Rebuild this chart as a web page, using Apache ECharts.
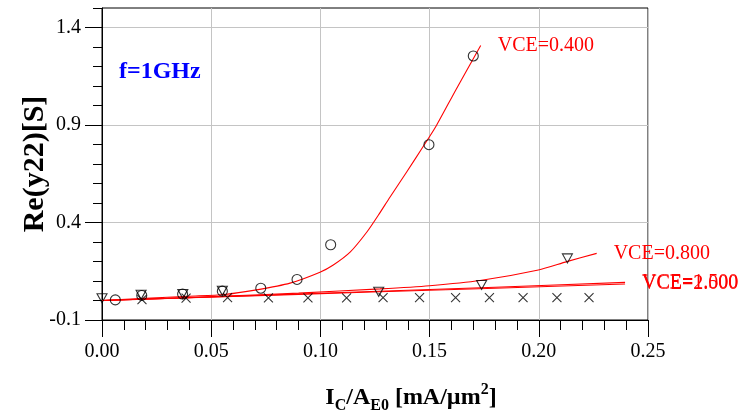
<!DOCTYPE html>
<html>
<head>
<meta charset="utf-8">
<script src="https://cdn.jsdelivr.net/npm/echarts@6/dist/echarts.min.js"></script>
<style>
html,body{margin:0;padding:0;background:#fff;}
#chart{width:741px;height:419px;}
</style>
</head>
<body>
<div id="chart"></div>
<script>
// ---- data ----
// measured points (symbols)
const circleX = [0.0061, 0.0182, 0.0369, 0.0551, 0.0727, 0.0893, 0.1047, 0.1497, 0.1700];
const circleY = [0.003, 0.026, 0.033, 0.048, 0.063, 0.108, 0.286, 0.799, 1.254];
const triX = [0.0, 0.0179, 0.0370, 0.0551, 0.1267, 0.1738, 0.2131];
const triY = [0.012, 0.029, 0.033, 0.050, 0.045, 0.080, 0.216];
const crossX = [0.0183, 0.0385, 0.0575, 0.0762, 0.0943, 0.1120, 0.1287, 0.1454, 0.1619, 0.1774, 0.1928, 0.2083, 0.2230];
const crossY = [0.004, 0.012, 0.015, 0.013, 0.013, 0.014, 0.015, 0.015, 0.015, 0.015, 0.015, 0.015, 0.015];
// simulated curves
const v04X = [0, 0.02, 0.04, 0.056, 0.0708, 0.0861, 0.0998, 0.1059, 0.1136, 0.1212, 0.1265, 0.1319, 0.1395, 0.1464, 0.1530, 0.1620, 0.1734];
const v04Y = [0, 0.011, 0.022, 0.031, 0.0546, 0.089, 0.145, 0.182, 0.248, 0.350, 0.437, 0.531, 0.659, 0.778, 0.895, 1.080, 1.308];
const v08X = [0, 0.03, 0.06, 0.09, 0.1273, 0.15, 0.1731, 0.1998, 0.2128, 0.2265];
const v08Y = [0, 0.011, 0.024, 0.038, 0.0597, 0.076, 0.1026, 0.1566, 0.1995, 0.2418];
const v15X = [0, 0.06, 0.12, 0.18, 0.2395];
const v15Y = [0, 0.022, 0.045, 0.068, 0.093];
const v20X = [0, 0.06, 0.12, 0.18, 0.2395];
const v20Y = [0, 0.021, 0.042, 0.063, 0.085];
const curveNames = ['VCE=0.400', 'VCE=0.800', 'VCE=1.500', 'VCE=2.000'];
const yMajorTicks = [-0.1, 0.4, 0.9, 1.4];
const annotation = 'f=1GHz';

const zip = (xs, ys) => xs.map((x, i) => [x, ys[i]]);
const SERIF = '"Liberation Serif", "Times New Roman", serif';
const RED = '#ff0000';

function curve(name, xs, ys) {
  return {
    type: 'line', name: name, data: zip(xs, ys), smooth: 0.25,
    showSymbol: false, symbol: 'none',
    lineStyle: {color: RED, width: 1.1},
    endLabel: {show: true, formatter: name, distance: 17, color: RED,
      fontFamily: SERIF, fontSize: 20},
    z: 3
  };
}
function marks(xs, ys, symbol, size) {
  return {
    type: 'scatter', data: zip(xs, ys), symbol: symbol, symbolSize: size,
    itemStyle: {color: 'rgba(0,0,0,0)', borderColor: '#000', borderWidth: 1.1},
    z: 4
  };
}

const chart = echarts.init(document.getElementById('chart'), null, {renderer: 'canvas'});
chart.setOption({
  animation: false,
  backgroundColor: '#fff',
  grid: {left: 102, right: 93, top: 8, bottom: 96, show: true,
    borderColor: '#000', borderWidth: 1, backgroundColor: '#fff'},
  xAxis: {
    type: 'value', min: 0, max: 0.25, interval: 0.05,
    axisLine: {show: true, onZero: false, lineStyle: {color: '#000', width: 1}},
    axisTick: {show: true, length: 17, lineStyle: {color: '#000'}},
    minorTick: {show: true, splitNumber: 5, length: 10, lineStyle: {color: '#000'}},
    axisLabel: {formatter: v => v.toFixed(2), color: '#000', fontFamily: SERIF,
      fontSize: 20, margin: 22},
    splitLine: {show: true, lineStyle: {color: '#c4c4c4', width: 1}},
    name: '{b|I}{sub|C}{b|/A}{sub|E0}{b| [mA/µm}{sup|2}{b|]}',
    nameLocation: 'middle', nameGap: 62,
    nameTextStyle: {
      padding: [0, 0, 0, 72],
      rich: {
        b: {fontFamily: SERIF, fontWeight: 'bold', fontSize: 24, color: '#000', lineHeight: 32},
        sub: {fontFamily: SERIF, fontWeight: 'bold', fontSize: 16, color: '#000', lineHeight: 16, verticalAlign: 'bottom'},
        sup: {fontFamily: SERIF, fontWeight: 'bold', fontSize: 16, color: '#000', lineHeight: 16, verticalAlign: 'top'}
      }
    }
  },
  yAxis: [{
    type: 'value', min: -0.1, max: 1.5, interval: 0.1, position: 'left',
    axisLine: {show: true, onZero: false, lineStyle: {color: '#000', width: 1}},
    axisTick: {show: true, length: 9, lineStyle: {color: '#000'}},
    axisLabel: {show: false},
    splitLine: {show: false},
    name: 'Re(y22)[S]', nameLocation: 'middle', nameGap: 52,
    nameTextStyle: {fontFamily: SERIF, fontWeight: 'bold', fontSize: 30, color: '#000'}
  }, {
    type: 'value', min: -0.1, max: 1.5, position: 'left',
    axisLine: {show: false},
    axisTick: {show: true, length: 17, customValues: yMajorTicks, lineStyle: {color: '#000'}},
    axisLabel: {show: true, customValues: yMajorTicks, formatter: v => v.toFixed(1),
      color: '#000', fontFamily: SERIF, fontSize: 20, margin: 21},
    splitLine: {show: true, lineStyle: {color: '#c4c4c4', width: 1}}
  }],
  graphic: [{
    type: 'text', left: 119, top: 60,
    style: {text: annotation, fill: '#0000ff', font: 'bold 24px ' + SERIF}
  }],
  series: [
    curve(curveNames[0], v04X, v04Y),
    curve(curveNames[1], v08X, v08Y),
    curve(curveNames[2], v15X, v15Y),
    curve(curveNames[3], v20X, v20Y),
    marks(circleX, circleY, 'circle', 10),
    marks(triX, triY, 'path://M0,0L10,0L5,9Z', [10, 9]),
    marks(crossX, crossY, 'path://M0,0L10,10M10,0L0,10', 9)
  ]
});
</script>
</body>
</html>
